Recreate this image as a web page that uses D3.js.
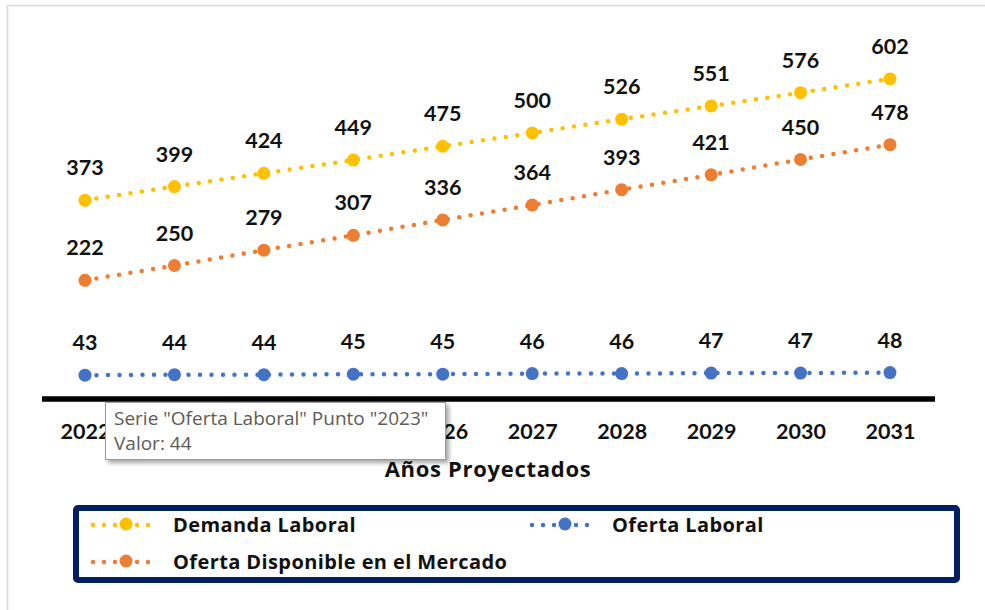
<!DOCTYPE html>
<html><head><meta charset="utf-8">
<script src="https://cdn.jsdelivr.net/npm/d3@7"></script>
<style>html,body{margin:0;padding:0;background:#fff;}svg{display:block;}</style>
</head><body>
<svg id="c" width="985" height="610"></svg>
<script>
const years = ["2022","2023","2024","2025","2026","2027","2028","2029","2030","2031"];
const demandaLaboral = [373,399,424,449,475,500,526,551,576,602];
const ofertaDisponible = [222,250,279,307,336,364,393,421,450,478];
const ofertaLaboral = [43,44,44,45,45,46,46,47,47,48];
const seriesNames = ["Demanda Laboral","Oferta Laboral","Oferta Disponible en el Mercado"];
const seriesColors = ["#FFC000","#4472C4","#ED7D31"];
const axisTitle = "Años Proyectados";
const tooltipLines = ['Serie "Oferta Laboral" Punto "2023"', 'Valor: 44'];

const svg = d3.select("#c");
const NUMFONT = "Lato, 'Open Sans', sans-serif";
const FONT = "'Open Sans', Lato, sans-serif";

svg.append("rect").attr("x",7.5).attr("y",5.5).attr("width",1000).attr("height",700)
  .attr("fill","#fff").attr("stroke","#d9d9d9").attr("stroke-width",1.5);

const x = d3.scalePoint().domain(years).range([85,890]);
const y = d3.scaleLinear().domain([0,650]).range([398,398-650*0.53]);

const series = [
  {name:seriesNames[0], values:demandaLaboral, color:seriesColors[0]},
  {name:seriesNames[2], values:ofertaDisponible, color:seriesColors[2]},
  {name:seriesNames[1], values:ofertaLaboral, color:seriesColors[1]}
];

const line = d3.line().x((d,i)=>x(years[i])).y(d=>y(d));

series.forEach(s=>{
  const g = svg.append("g");
  g.append("path").datum(s.values).attr("d",line)
    .attr("fill","none").attr("stroke",s.color).attr("stroke-width",4.5)
    .attr("stroke-linecap","round").attr("stroke-dasharray","0,11.5");
  g.selectAll("circle").data(s.values).join("circle")
    .attr("cx",(d,i)=>x(years[i])).attr("cy",d=>y(d)).attr("r",6.5).attr("fill",s.color);
  g.selectAll("text").data(s.values).join("text")
    .attr("x",(d,i)=>x(years[i])).attr("y",d=>y(d)-25)
    .attr("text-anchor","middle").attr("font-family",NUMFONT).attr("font-weight","bold")
    .attr("font-size",21.5).attr("fill","#111").text(d=>d);
});

const xAxis = d3.axisBottom(x).tickSize(0).tickPadding(0);
const ax = svg.append("g").attr("transform","translate(0,399)").call(xAxis);
ax.select(".domain").remove();
ax.append("line").attr("x1",42).attr("x2",935).attr("y1",0).attr("y2",0)
  .attr("stroke","#000").attr("stroke-width",5.5);
ax.selectAll(".tick text").attr("y",40).attr("dy",0)
  .attr("font-family",NUMFONT).attr("font-weight","bold").attr("font-size",21.5).attr("fill","#111");

svg.append("text").attr("x",488).attr("y",477).attr("text-anchor","middle")
  .attr("font-family",FONT).attr("font-weight","bold").attr("font-size",22)
  .attr("letter-spacing",0.7).attr("fill","#111").text(axisTitle);

svg.append("rect").attr("x",76).attr("y",508).attr("width",881).attr("height",72).attr("rx",2)
  .attr("fill","#fff").attr("stroke","#002060").attr("stroke-width",6);
const legendItems = [
  {s:series[0], lx:93, ty:525},
  {s:series[2], lx:532, ty:525},
  {s:series[1], lx:93, ty:562}
];
legendItems.forEach(li=>{
  const g = svg.append("g");
  g.append("line").attr("x1",li.lx).attr("x2",li.lx+66).attr("y1",li.ty).attr("y2",li.ty)
    .attr("stroke",li.s.color).attr("stroke-width",4.5).attr("stroke-linecap","round")
    .attr("stroke-dasharray","0,11");
  g.append("circle").attr("cx",li.lx+33).attr("cy",li.ty-1).attr("r",6.5).attr("fill",li.s.color);
  g.append("text").attr("x",li.lx+80).attr("y",li.ty+7).attr("font-family",FONT)
    .attr("font-weight","bold").attr("font-size",20).attr("letter-spacing",0.4)
    .attr("fill","#111").text(li.s.name);
});

const defs = svg.append("defs");
const f = defs.append("filter").attr("id","sh").attr("x","-10%").attr("y","-20%").attr("width","130%").attr("height","150%");
f.append("feDropShadow").attr("dx",3).attr("dy",3).attr("stdDeviation",2).attr("flood-color","#000").attr("flood-opacity",0.35);
svg.append("rect").attr("x",105.5).attr("y",402.5).attr("width",340).attr("height",57)
  .attr("fill","#fff").attr("stroke","#9a9a9a").attr("stroke-width",1).attr("filter","url(#sh)");
svg.selectAll("text.tt").data(tooltipLines).join("text").attr("class","tt")
  .attr("x",114).attr("y",(d,i)=>425+i*25)
  .attr("font-family","'Open Sans', 'Noto Sans', sans-serif").attr("font-size",19)
  .attr("fill","#5f5a55").text(d=>d);
</script>
</body></html>
